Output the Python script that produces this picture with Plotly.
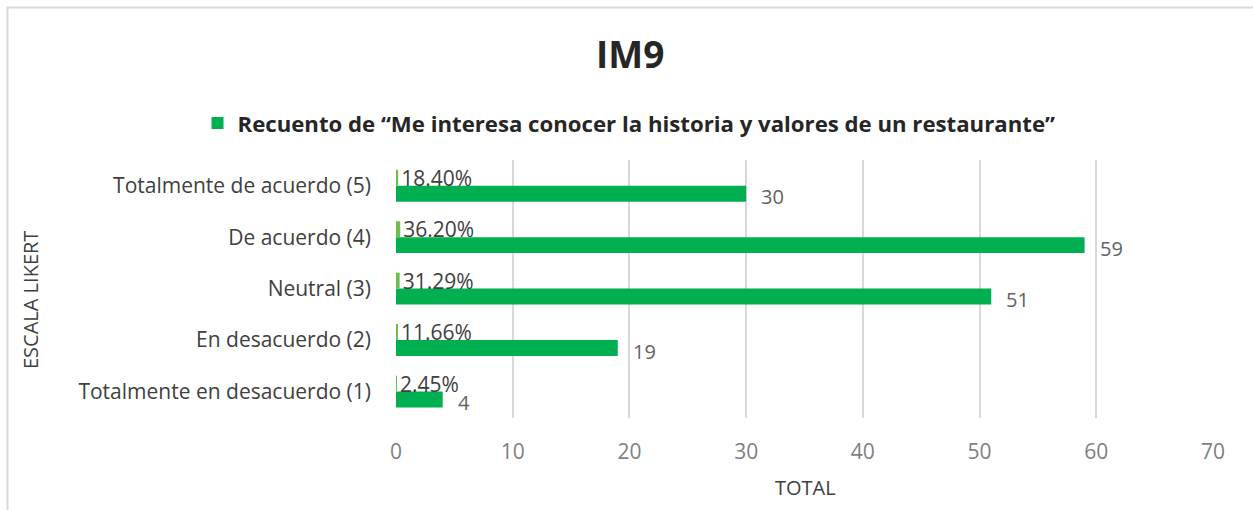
import plotly.graph_objects as go

categories = ["Totalmente en desacuerdo (1)", "En desacuerdo (2)", "Neutral (3)",
              "De acuerdo (4)", "Totalmente de acuerdo (5)"]
counts = [4, 19, 51, 59, 30]
pct = [0.0245, 0.1166, 0.3129, 0.3620, 0.1840]
pct_labels = ["2.45%", "11.66%", "31.29%", "36.20%", "18.40%"]
x_ticks = [0, 10, 20, 30, 40, 50, 60, 70]
legend_name = "Recuento de “Me interesa conocer la historia y valores de un restaurante”"

W, H = 1253, 510
L, R, T, B = 396, 40, 160, 92
PW, PH = W - L - R, H - T - B

def px_x(px):
    return (px - L) / PW

def px_y(py):
    return (H - B - py) / PH

FONT = "Open Sans"

fig = go.Figure()
fig.add_trace(go.Bar(
    y=categories, x=counts, orientation="h", name=legend_name,
    marker=dict(color="#00B050", line=dict(width=0)),
    showlegend=True, hoverinfo="x+y",
))
fig.add_trace(go.Bar(
    y=categories, x=pct, orientation="h", name="Porcentaje",
    marker=dict(color="#6CC04A", line=dict(width=0)),
    text=pct_labels, textposition="outside", cliponaxis=False,
    constraintext="none",
    textfont=dict(family=FONT, size=21, color="#404040"),
    showlegend=False,
))

for c, v in zip(categories, counts):
    fig.add_annotation(x=v, y=c, text=str(v), showarrow=False, xanchor="left",
                       yanchor="middle", xshift=13, yshift=-11,
                       font=dict(family=FONT, size=20, color="#636363"))

fig.add_annotation(xref="paper", yref="paper", x=px_x(30), y=px_y(300),
                   xanchor="center", yanchor="middle",
                   text="ESCALA LIKERT", textangle=-90, showarrow=False,
                   font=dict(family=FONT, size=20, color="#404040"))
fig.add_annotation(xref="paper", yref="paper", x=px_x(805), y=px_y(487),
                   xanchor="center", yanchor="middle",
                   text="TOTAL", showarrow=False,
                   font=dict(family=FONT, size=20, color="#404040"))

fig.add_shape(type="rect", xref="paper", yref="paper",
              x0=px_x(7.5), x1=px_x(1270), y0=px_y(530), y1=px_y(7.5),
              line=dict(color="#D9D9D9", width=2), layer="below")

fig.update_layout(
    width=W, height=H,
    margin=dict(l=L, r=R, t=T, b=B, autoexpand=False),
    paper_bgcolor="white", plot_bgcolor="white",
    barmode="group", bargap=0.38, bargroupgap=0,
    title=dict(text="<b>IM9</b>", x=0.503, xref="container", xanchor="center",
               y=1 - 55 / H, yref="container", yanchor="middle",
               font=dict(family=FONT, size=37, color="#262626")),
    legend=dict(orientation="h", xref="container", yref="container",
                x=0.502, xanchor="center", y=1 - 123 / H, yanchor="middle",
                font=dict(family=FONT, size=22.2, color="#262626", weight="bold"),
                itemwidth=30),
    font=dict(family=FONT),
    xaxis=dict(range=[0, 70], tickvals=x_ticks, showgrid=True,
               gridcolor="#D9D9D9", gridwidth=1.5, zeroline=False,
               showline=False, ticks="", ticklabelstandoff=19,
               tickfont=dict(family=FONT, size=21, color="#7F7F7F"),
               fixedrange=True),
    yaxis=dict(type="category", categoryorder="array", categoryarray=categories,
               showgrid=False, zeroline=False, showline=False, ticks="",
               ticklabelstandoff=24,
               tickfont=dict(family=FONT, size=21, color="#404040"),
               fixedrange=True),
)

fig.write_html("out.html", config={"displayModeBar": False},
               post_script="document.body.style.margin='0';")
